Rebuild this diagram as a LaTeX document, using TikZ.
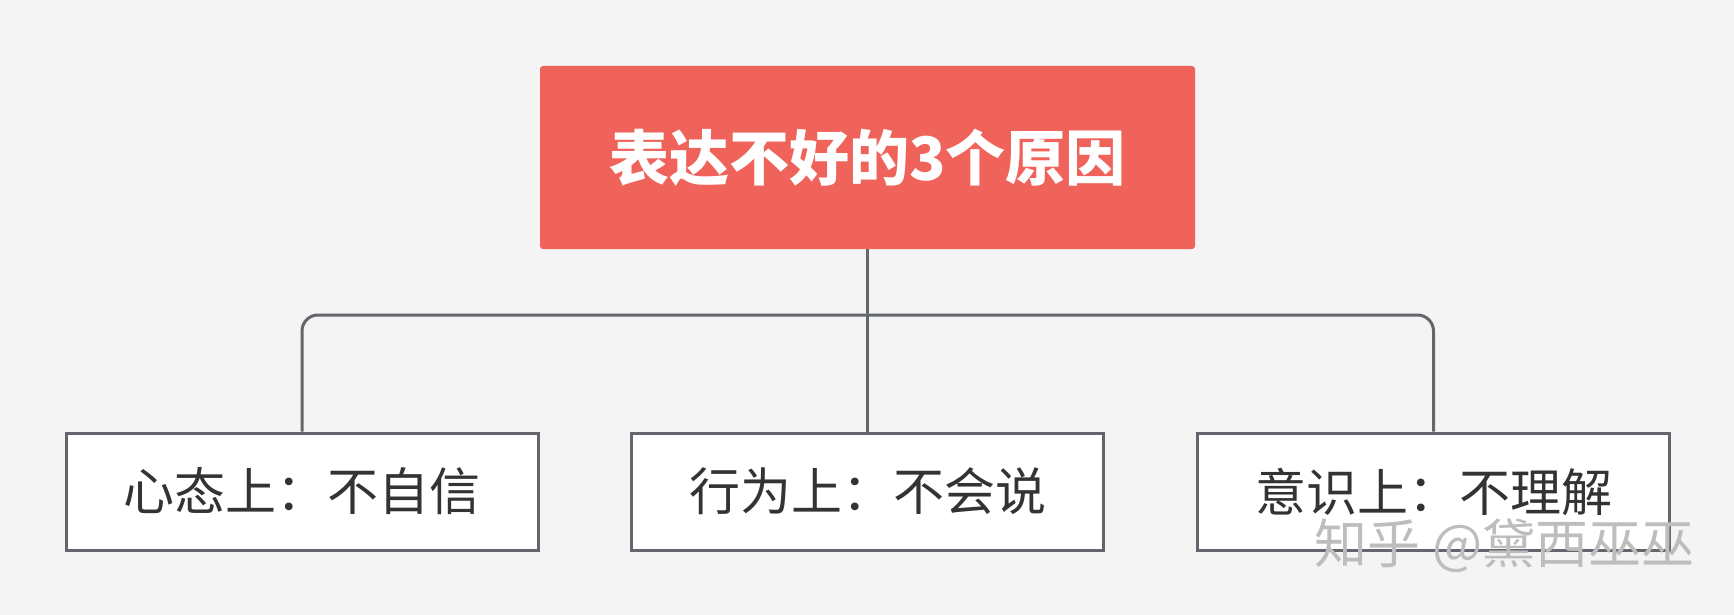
\documentclass[tikz,border=0pt]{standalone}
\usepackage{fontspec}
\newfontfamily\cjk{Noto Sans CJK SC}
\definecolor{bgc}{HTML}{F4F4F4}
\definecolor{redc}{HTML}{F0635A}
\definecolor{linec}{HTML}{63676D}
\definecolor{txtc}{HTML}{333333}
\definecolor{wmc}{HTML}{BDBDBD}
\tikzset{
  rootbox/.style={fill=redc, draw=none, rounded corners=1.5pt, inner sep=0pt,
    minimum width=327.5pt, minimum height=91.5pt, text=white,
    font=\cjk\bfseries\fontsize{30pt}{36pt}\selectfont},
  childbox/.style={fill=white, draw=linec, line width=1.5pt, inner sep=0pt,
    minimum width=236pt, minimum height=58.5pt, text=txtc,
    font=\cjk\fontsize{25.5pt}{30pt}\selectfont},
  conn/.style={draw=linec, line width=1.5pt},
  wm/.style={text=wmc, inner sep=0pt, font=\cjk\fontsize{26.5pt}{30pt}\selectfont}
}
\begin{document}
\begin{tikzpicture}[x=0.5pt, y=-0.5pt]
\fill[bgc] (0,0) rectangle (1734,615);
\useasboundingbox (0,0) rectangle (1734,615);
\node[rootbox] (root) at (867.5,157.5) {表达不好的3个原因};
\node[childbox] (c1) at (302,491.5) {心态上：不自信};
\node[childbox] (c2) at (867.5,491.5) {行为上：不会说};
\node[childbox] (c3) at (1433.5,491.5) {意识上：不理解};
\coordinate (bar) at (867.5,315);
\draw[conn] (root.south) -- (c2.north);
\draw[conn, rounded corners=8pt] (c1.north) -- (c1.north |- bar) -- (c3.north |- bar) -- (c3.north);
\node[wm, anchor=west] (wmark) at (1314,546) {知乎 @黛西巫巫};
\end{tikzpicture}
\end{document}
